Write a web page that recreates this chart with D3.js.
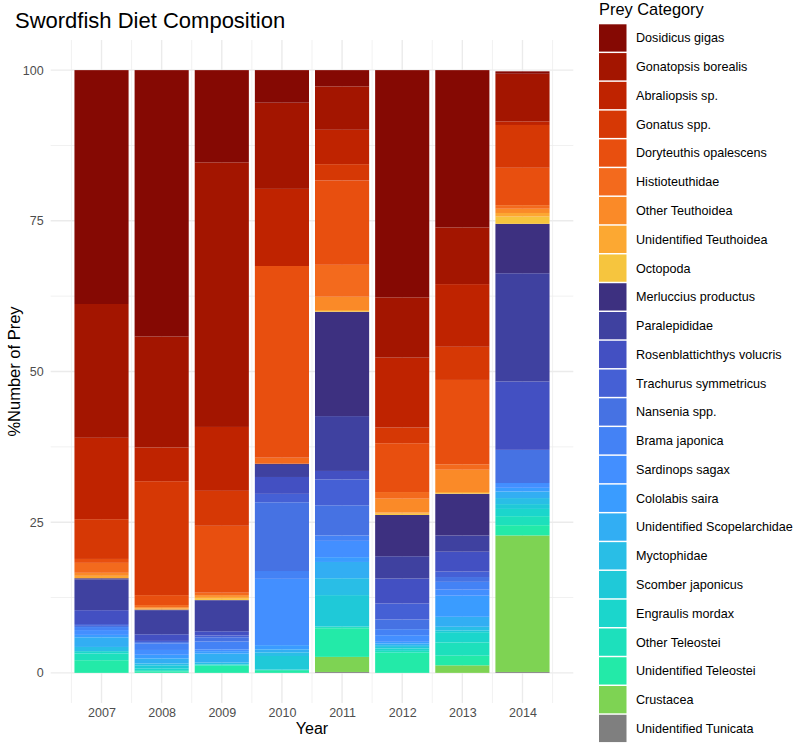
<!DOCTYPE html>
<html><head><meta charset="utf-8">
<script src="https://cdn.jsdelivr.net/npm/d3@7/dist/d3.min.js"></script>
<style>body{margin:0;background:#fff}svg text{font-family:"Liberation Sans",Arial,sans-serif}</style>
</head><body><svg id="c" width="797" height="744"></svg>
<script>
const years = [2007, 2008, 2009, 2010, 2011, 2012, 2013, 2014];
const categories = ["Dosidicus gigas","Gonatopsis borealis","Abraliopsis sp.","Gonatus spp.","Doryteuthis opalescens","Histioteuthidae","Other Teuthoidea","Unidentified Teuthoidea","Octopoda","Merluccius productus","Paralepididae","Rosenblattichthys volucris","Trachurus symmetricus","Nansenia spp.","Brama japonica","Sardinops sagax","Cololabis saira","Unidentified Scopelarchidae","Myctophidae","Scomber japonicus","Engraulis mordax","Other Teleostei","Unidentified Teleostei","Crustacea","Unidentified Tunicata"];
const colors = ["#850903","#A31500","#BF2300","#D63805","#E84F0F","#F36A1D","#FA8A28","#FCA832","#F6C53E","#3D3080","#3F41A0","#4350C2","#4560D5","#4672E3","#4482F5","#438FFF","#3A9CFF","#32AEF3","#29BEE6","#1FC9D8","#1BD6CC","#1DE0BC","#23EAA8","#7ED353","#7F7F7F"];
// values (%) per year, in category order
const v2007 = [38.8,22.2,13.5,6.6,0.65,1.65,0.5,0.4,0,0.2,5.1,2.3,0.3,0.2,0.5,0.8,0.4,1.6,0.7,0,0.4,1.1,2.1,0,0];
const v2008 = [44.2,18.4,5.6,18.9,1.65,0.35,0.2,0.2,0,0.1,4.0,1.1,0.2,0.2,1.1,0.8,0.6,0.85,0.3,0.5,0.3,0.2,0.25,0,0];
const v2009 = [15.3,43.9,10.6,5.8,11.1,0.4,0.3,0.3,0.2,0.1,5.1,0.7,0.3,0.7,1.3,0.3,0.4,1.5,0.3,0,0,0.2,1.2,0,0];
const v2010 = [5.4,14.3,12.8,0,31.8,1.0,0,0,0,0.2,2.0,2.8,1.4,11.4,1.3,11.0,0.7,0.5,0.6,2.25,0.1,0,0.45,0,0];
const v2011 = [2.7,7.2,5.7,2.7,14.0,5.3,2.2,0.2,0.1,17.3,9.1,1.4,4.3,5.0,0.9,2.7,0.8,2.7,2.8,5.2,0.1,0.2,4.75,2.5,0.15];
const v2012 = [37.7,10.0,11.6,2.6,8.1,1.1,2.3,0.2,0.2,6.85,3.7,4.15,2.65,1.6,1.0,1.1,0.3,0.25,0.3,0.25,0.4,0.3,3.35,0,0];
const v2013 = [26.1,9.4,10.4,5.5,14.0,0.9,3.7,0.2,0.1,6.9,2.7,3.3,0.9,0.8,1.3,1.0,3.5,1.65,0.6,0.3,1.7,2.2,1.6,1.25,0];
const v2014 = [0.4,7.9,0.6,7.1,6.2,0.6,0.7,0.6,1.2,8.2,17.95,11.35,0,5.5,0,0.8,0.6,1.1,1.0,0.8,1.2,1.5,1.7,22.65,0.15];
const yTicks = [0, 25, 50, 75, 100];

const series = [v2007, v2008, v2009, v2010, v2011, v2012, v2013, v2014];
const rows = years.map((y, i) => {
  const r = {year: y};
  categories.forEach((c, j) => r[c] = series[i][j]);
  return r;
});

const svg = d3.select("#c");
const P = {left: 50.7, right: 573.3, top: 40, bottom: 703};
const x = d3.scaleLinear().domain([2006.155, 2014.845]).range([P.left, P.right]);
const y = d3.scaleLinear().domain([-5, 105]).range([P.bottom, P.top]);
const color = d3.scaleOrdinal().domain(categories).range(colors);

// grid
const g = svg.append("g");
const minorY = [12.5, 37.5, 62.5, 87.5];
g.selectAll(".mny").data(minorY).join("line")
  .attr("x1", P.left).attr("x2", P.right).attr("y1", d => y(d)).attr("y2", d => y(d))
  .attr("stroke", "#EBEBEB").attr("stroke-width", 0.7);
const minorX = d3.range(2006.5, 2015, 1);
g.selectAll(".mnx").data(minorX).join("line")
  .attr("y1", P.top).attr("y2", P.bottom).attr("x1", d => x(d)).attr("x2", d => x(d))
  .attr("stroke", "#EBEBEB").attr("stroke-width", 0.7);
g.selectAll(".mjy").data(yTicks).join("line")
  .attr("x1", P.left).attr("x2", P.right).attr("y1", d => y(d)).attr("y2", d => y(d))
  .attr("stroke", "#EBEBEB").attr("stroke-width", 1.4);
g.selectAll(".mjx").data(years).join("line")
  .attr("y1", P.top).attr("y2", P.bottom).attr("x1", d => x(d)).attr("x2", d => x(d))
  .attr("stroke", "#EBEBEB").attr("stroke-width", 1.4);

// bars
const stack = d3.stack().keys(categories.slice().reverse());
const stacked = stack(rows);
const bw = (x(2008) - x(2007)) * 0.9;
svg.append("g").selectAll("g").data(stacked).join("g")
  .attr("fill", d => color(d.key))
  .selectAll("rect").data(d => d.filter(s => s[1] - s[0] > 0)).join("rect")
  .attr("x", d => x(d.data.year) - bw / 2)
  .attr("width", bw)
  .attr("y", d => y(d[1]))
  .attr("height", d => y(d[0]) - y(d[1]));

// axes
const yAxis = d3.axisLeft(y).tickValues(yTicks).tickSize(0).tickPadding(7);
const ya = svg.append("g").attr("transform", `translate(${P.left},0)`).call(yAxis);
const xAxis = d3.axisBottom(x).tickValues(years).tickFormat(d3.format("d")).tickSize(0).tickPadding(5);
const xa = svg.append("g").attr("transform", `translate(0,${P.bottom})`).call(xAxis);
[ya, xa].forEach(a => {
  a.select(".domain").remove();
  a.selectAll("text").attr("fill", "#4D4D4D").style("font-size", "12.5px");
});

svg.append("text").attr("x", (P.left + P.right) / 2).attr("y", 734).attr("text-anchor", "middle")
  .style("font-size", "16px").attr("fill", "#000").text("Year");
svg.append("text").attr("transform", `translate(20,${(P.top + P.bottom) / 2}) rotate(-90)`)
  .attr("text-anchor", "middle").style("font-size", "16.5px").attr("fill", "#000").text("%Number of Prey");
svg.append("text").attr("x", 15).attr("y", 28).style("font-size", "22px").attr("fill", "#000")
  .text("Swordfish Diet Composition");

// legend
const L = {x: 599, y: 24.3, step: 28.77, key: 27.3};
const lg = svg.append("g");
lg.append("text").attr("x", L.x).attr("y", 15).style("font-size", "16.4px").attr("fill", "#000").text("Prey Category");
const items = lg.selectAll(".it").data(categories).join("g")
  .attr("transform", (d, i) => `translate(${L.x},${L.y + i * L.step})`);
items.append("rect").attr("width", 27.5).attr("height", L.key).attr("fill", d => color(d));
items.append("text").attr("x", 37).attr("y", L.key / 2).attr("dy", "0.35em")
  .style("font-size", "12.6px").attr("fill", "#000").text(d => d);
</script></body></html>
